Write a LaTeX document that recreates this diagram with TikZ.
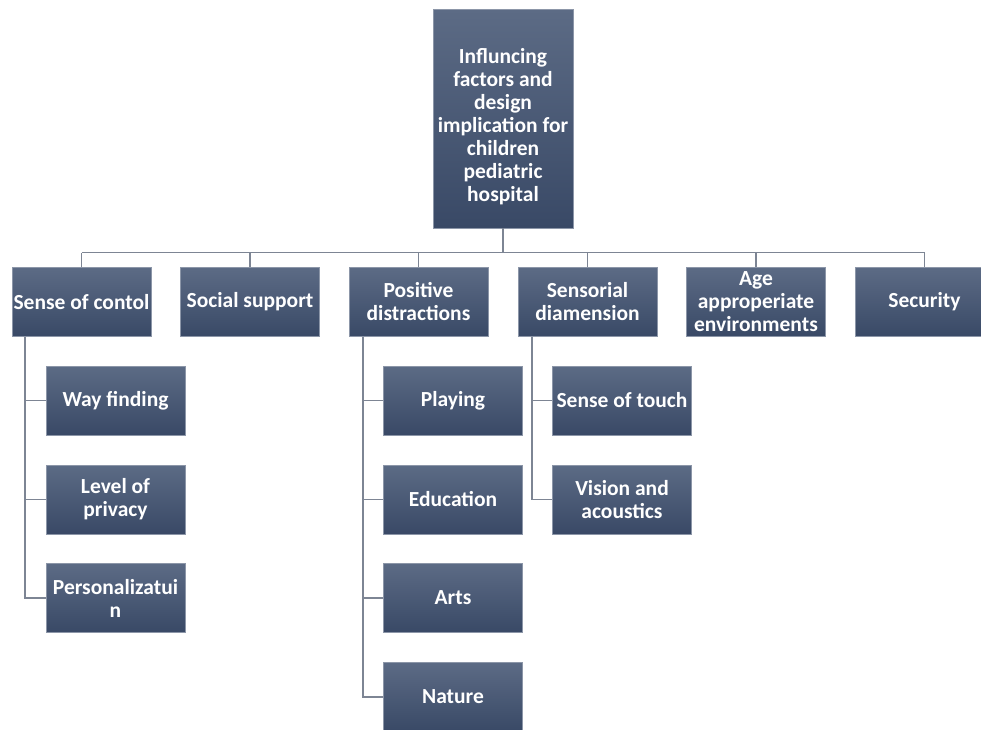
\documentclass[tikz,border=0pt]{standalone}
\usepackage{fontspec}
\setmainfont{Carlito}
\definecolor{boxtop}{HTML}{5C6B85}
\definecolor{boxbot}{HTML}{394966}
\definecolor{boxedge}{HTML}{8C96A8}
\definecolor{linec}{HTML}{7D8594}
\tikzset{
  boxfont/.style={text=white, font=\fontsize{21.5}{23}\selectfont\bfseries},
  box/.style={draw=boxedge, line width=0.8pt, top color=boxtop, bottom color=boxbot,
    minimum width=139pt, minimum height=69pt, inner sep=0pt, align=center, boxfont},
  conn/.style={draw=linec, line width=1.6pt}
}
\begin{document}
\begin{tikzpicture}[x=1pt,y=-1pt]
\useasboundingbox (0,0) rectangle (981,729);
\clip (0,0) rectangle (981,729);
\node[box, minimum width=140pt, minimum height=219pt] (root) at (503,118.5) {};
\node[align=center, boxfont, inner sep=0pt] (rootlbl) at (503,127)
  {Influncing\\factors and\\design\\implication for\\children\\pediatric\\hospital};
\node[box] (a) at (81.5,302) {Sense of contol};
\node[box] (b) at (250,302) {Social support};
\node[box] (c) at (418.5,302) {Positive\\distractions};
\node[box] (d) at (587.5,302) {Sensorial\\diamension};
\node[box] (e) at (756,302) {Age\\approperiate\\environments};
\node[box] (f) at (924.5,302) {Security};
\node[box] (a1) at (115.5,400.5) {Way finding};
\node[box] (a2) at (115.5,499.5) {Level of\\privacy};
\node[box] (a3) at (115.5,598) {Personalizatui\\n};
\node[box] (c1) at (453,400.5) {Playing};
\node[box] (c2) at (453,499.5) {Education};
\node[box] (c3) at (453,598) {Arts};
\node[box] (c4) at (453,697) {Nature};
\node[box] (d1) at (622,400.5) {Sense of touch};
\node[box] (d2) at (622,499.5) {Vision and\\acoustics};
\coordinate (bus) at (503,252.5);
\draw[conn] (root.south) -- (bus);
\foreach \n in {a,b,c,d,e,f}{
  \draw[conn] (\n.north) -- (\n.north |- bus);
}
\draw[conn] (a.north |- bus) -- (f.north |- bus);
% sub branches
\draw[conn] ([xshift=-56.5pt]a.south) |- (a3.west);
\draw[conn] ([xshift=-56.5pt]a.south |- a1.west) -- (a1.west);
\draw[conn] ([xshift=-56.5pt]a.south |- a2.west) -- (a2.west);
\draw[conn] ([xshift=-55.5pt]c.south) |- (c4.west);
\draw[conn] ([xshift=-55.5pt]c.south |- c1.west) -- (c1.west);
\draw[conn] ([xshift=-55.5pt]c.south |- c2.west) -- (c2.west);
\draw[conn] ([xshift=-55.5pt]c.south |- c3.west) -- (c3.west);
\draw[conn] ([xshift=-55.5pt]d.south) |- (d2.west);
\draw[conn] ([xshift=-55.5pt]d.south |- d1.west) -- (d1.west);
\end{tikzpicture}
\end{document}
